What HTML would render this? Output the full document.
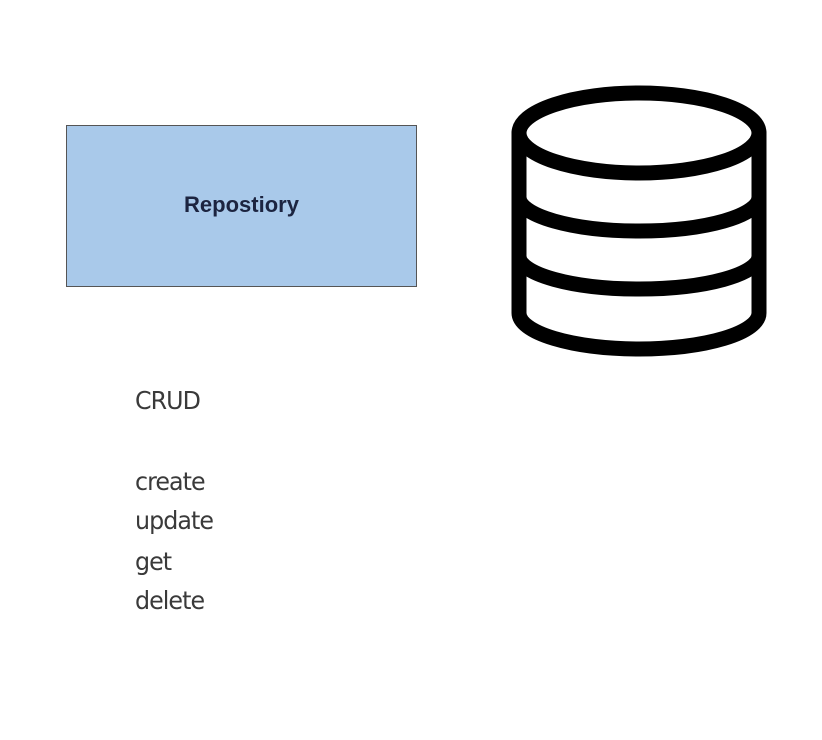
<!DOCTYPE html>
<html><head><style>
html,body{margin:0;padding:0;background:#fff;width:822px;height:740px;overflow:hidden;position:relative}
.box{position:absolute;left:66px;top:125px;width:351px;height:162px;background:#a9c9ea;border:1px solid #555;box-sizing:border-box;display:flex;align-items:center;justify-content:center;font-family:"Liberation Sans",sans-serif;font-weight:bold;font-size:22px;color:#1c2440;padding-bottom:2px}
.t{position:absolute;left:135px;font-family:"DejaVu Sans",cursive;color:#3a3a3a;font-size:25px;letter-spacing:-1px;transform:scaleX(0.95);transform-origin:left}
</style></head><body>
<div class="box">Repostiory</div>
<svg width="822" height="740" style="position:absolute;left:0;top:0">
<g fill="none" stroke="#000" stroke-width="15" stroke-linecap="round">
<ellipse cx="639" cy="133" rx="120" ry="40"/>
<path d="M519 133 V313 A120 36 0 0 0 759 313 V133"/>
<path d="M519 197 A120 34 0 0 0 759 197"/>
<path d="M519 256 A120 33 0 0 0 759 256"/>
</g>
</svg>
<div class="t" style="top:386px">CRUD</div>
<div class="t" style="top:467px">create</div>
<div class="t" style="top:506px">update</div>
<div class="t" style="top:547px">get</div>
<div class="t" style="top:586px">delete</div>
</body></html>
